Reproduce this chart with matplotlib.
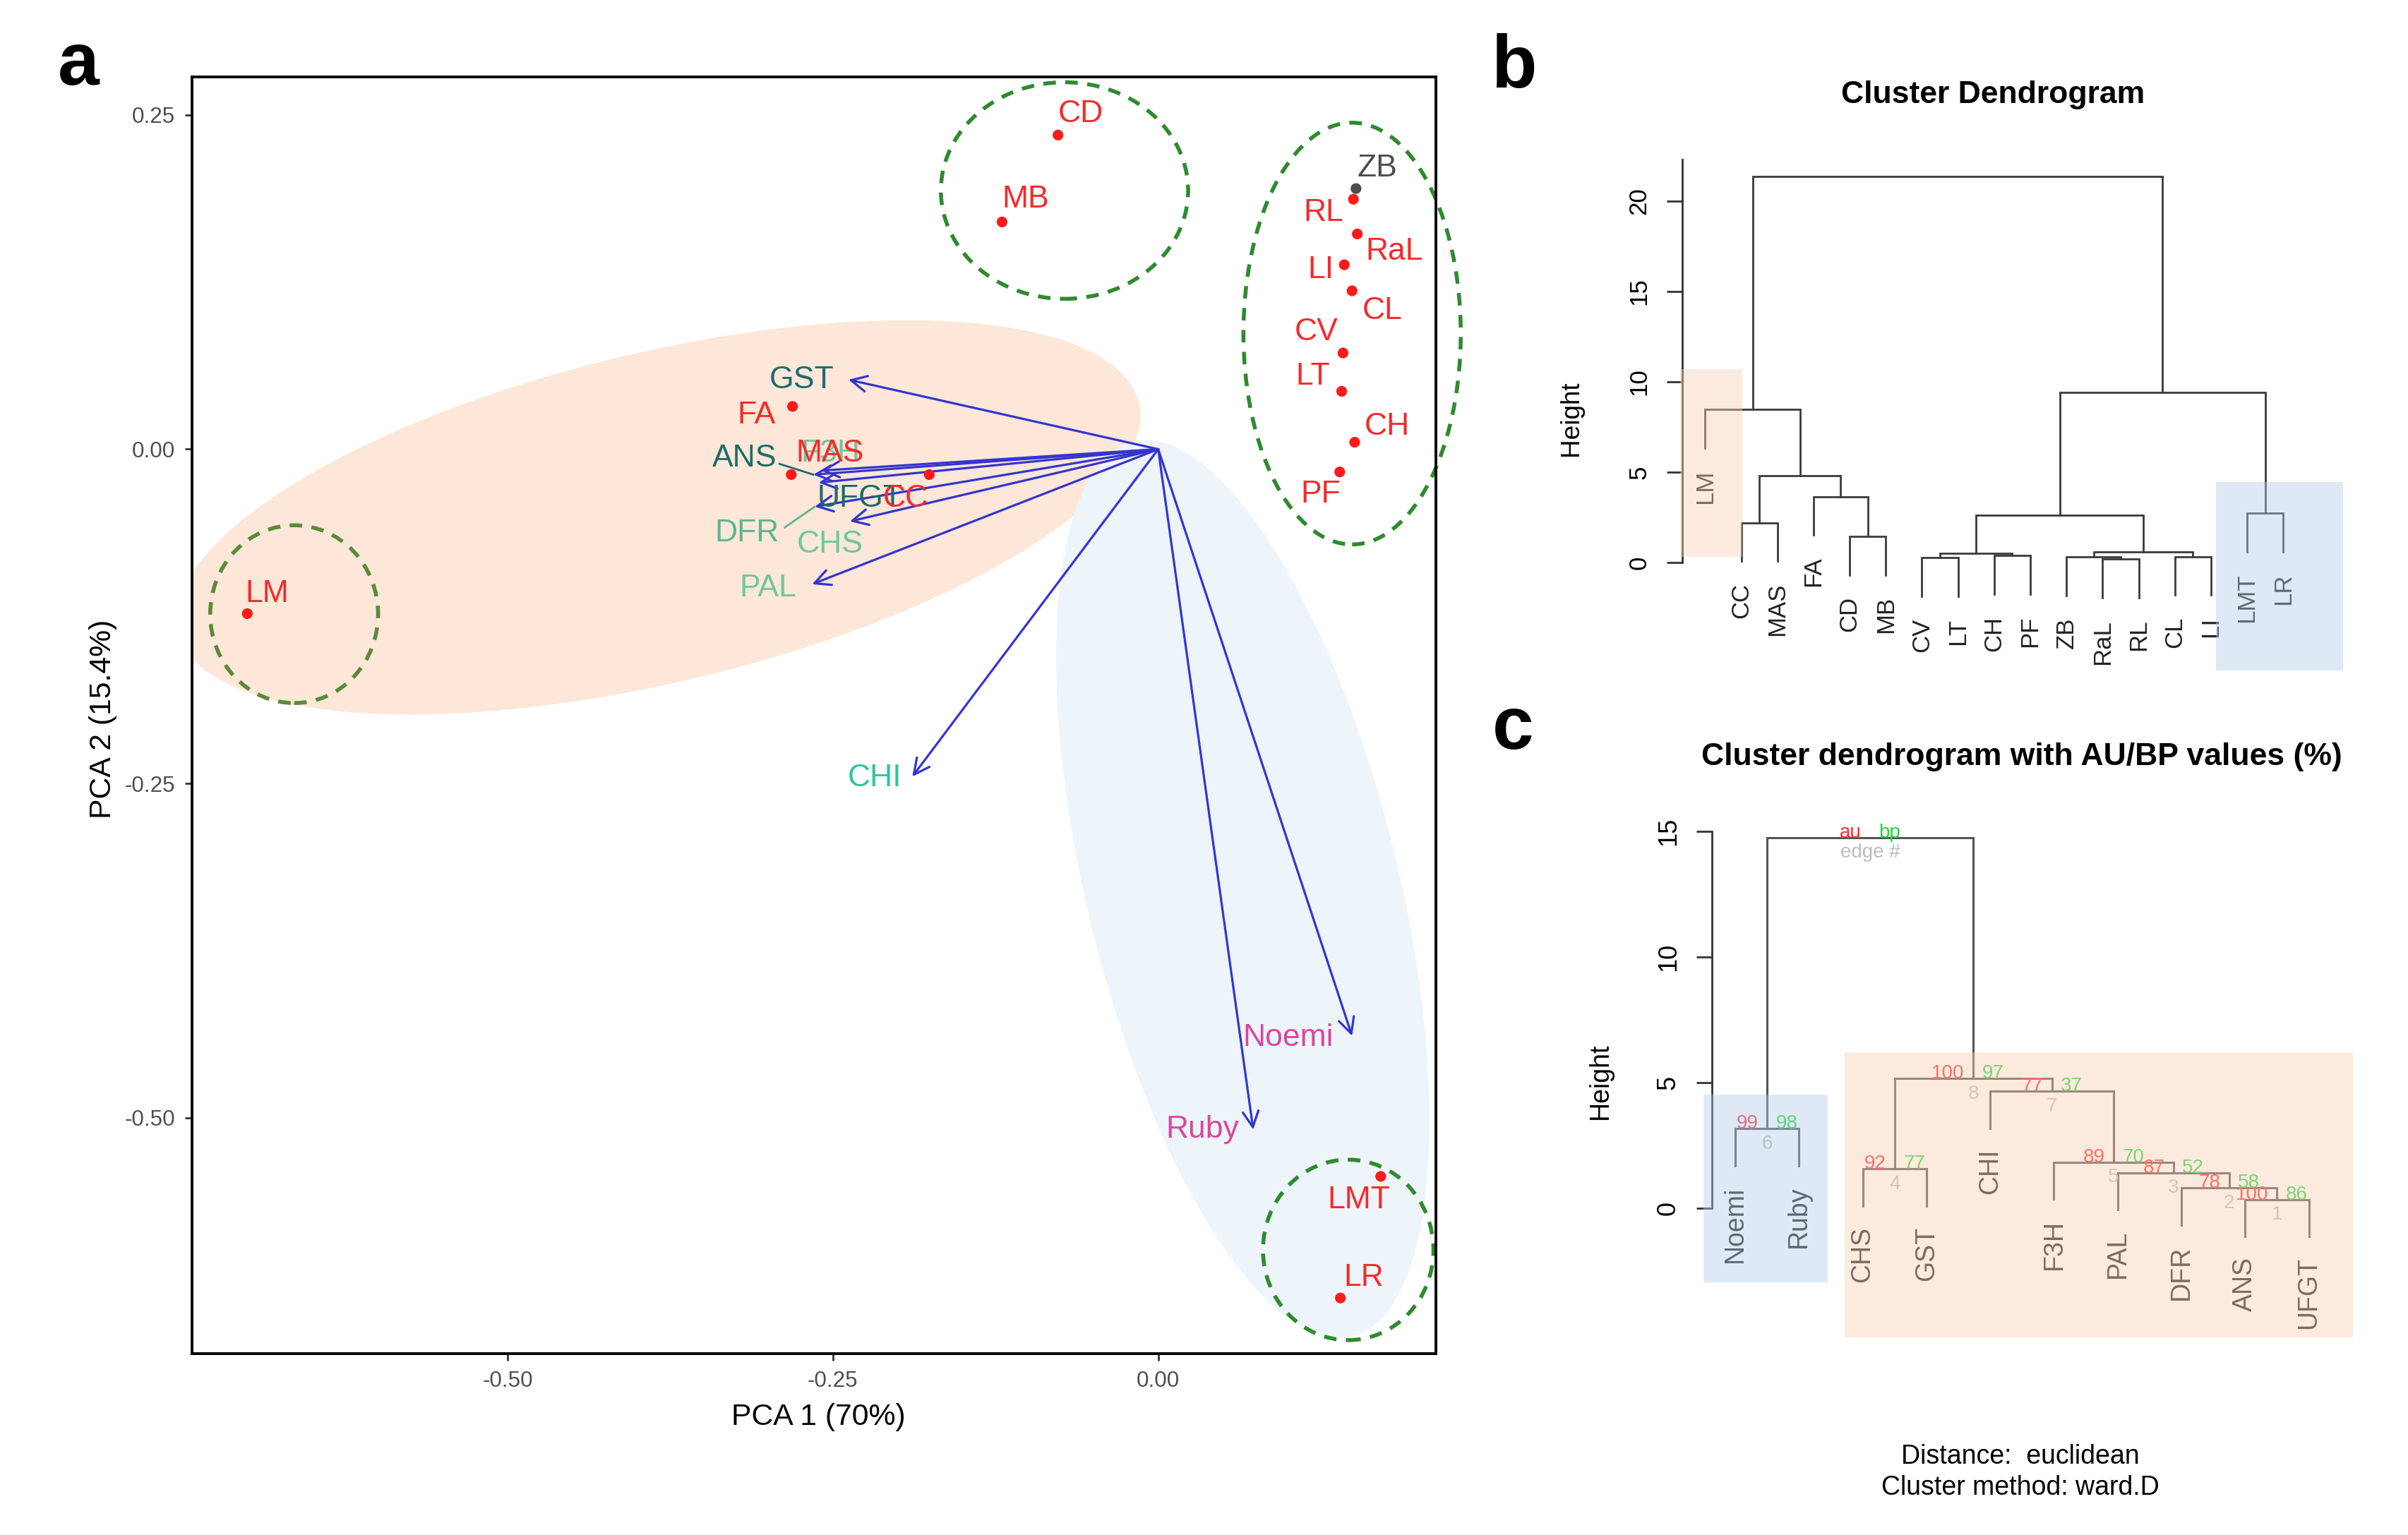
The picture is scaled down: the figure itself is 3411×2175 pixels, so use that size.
import matplotlib
matplotlib.use('Agg')
import matplotlib.pyplot as plt
from matplotlib.patches import Ellipse, Rectangle

plt.rcParams['font.family'] = ['Liberation Sans', 'DejaVu Sans']
plt.rcParams['axes.unicode_minus'] = False

# ---------------------------
# data: PCA biplot (panel a)
# ---------------------------
samples = ['CD', 'MB', 'ZB', 'RL', 'RaL', 'LI', 'CL', 'CV', 'LT', 'CH', 'PF',
           'FA', 'MAS', 'CC', 'LM', 'LMT', 'LR']
pc1 = [-0.077, -0.120, 0.152, 0.150, 0.153, 0.143, 0.149, 0.142, 0.141, 0.151,
       0.1395, -0.281, -0.282, -0.176, -0.700, 0.171, 0.140]
pc2 = [0.235, 0.170, 0.195, 0.187, 0.161, 0.138, 0.1185, 0.072, 0.0433, 0.0052,
       -0.017, 0.032, -0.019, -0.019, -0.123, -0.544, -0.635]

genes = ['GST', 'ANS', 'F3H', 'UFGT', 'DFR', 'CHS', 'PAL', 'CHI', 'Noemi', 'Ruby']
load1 = [-0.238, -0.265, -0.259, -0.261, -0.264, -0.237, -0.266, -0.189, 0.149, 0.073]
load2 = [0.052, -0.019, -0.016, -0.025, -0.043, -0.054, -0.101, -0.245, -0.439, -0.509]

# ---------------------------
# data: dendrogram of samples (panel b)
# leaves are names, ints refer to earlier merges (1-based)
# ---------------------------
b_leaves = ['LM', 'CC', 'MAS', 'FA', 'CD', 'MB', 'CV', 'LT', 'CH', 'PF',
            'ZB', 'RaL', 'RL', 'CL', 'LI', 'LMT', 'LR']
b_merge = [('CV', 'LT'), ('RaL', 'RL'), ('ZB', 2), ('CH', 'PF'), ('CL', 'LI'),
           (1, 4), (3, 5), ('CD', 'MB'), ('CC', 'MAS'), (6, 7), ('LMT', 'LR'),
           ('FA', 8), (9, 12), ('LM', 13), (10, 11), (14, 15)]
b_height = [0.25, 0.17, 0.30, 0.37, 0.32, 0.52, 0.57, 1.44, 2.19, 2.62, 2.71,
            3.64, 4.81, 8.47, 9.41, 21.37]

# ---------------------------
# data: pvclust dendrogram of genes (panel c)
# ---------------------------
c_leaves = ['Noemi', 'Ruby', 'CHS', 'GST', 'CHI', 'F3H', 'PAL', 'DFR', 'ANS', 'UFGT']
c_merge = [('ANS', 'UFGT'), ('DFR', 1), ('PAL', 2), ('CHS', 'GST'), ('F3H', 3),
           ('Noemi', 'Ruby'), ('CHI', 5), (4, 7), (6, 8)]
c_height = [0.34, 0.80, 1.41, 1.56, 1.83, 3.16, 4.65, 5.16, 14.76]
c_au = [100, 78, 87, 92, 89, 99, 77, 100, None]
c_bp = [86, 58, 52, 77, 70, 98, 37, 97, None]

# ---------------------------
# styling / layout
# ---------------------------
RED = '#f52a2a'
GRAY = '#4d4d4d'
ARROW = '#3434cf'
gene_col = {'GST': '#1d6b6d', 'ANS': '#1d6b6d', 'UFGT': '#1d6b6d',
            'F3H': '#6fc69e', 'DFR': '#5ab78f', 'CHS': '#6fc69e', 'PAL': '#6fc69e',
            'CHI': '#2fc2a4', 'Noemi': '#d9479f', 'Ruby': '#d9479f'}

# label offsets (data units) from point / arrow tip
samp_off = {'CD': (0.0174, 0.0157), 'MB': (0.0183, 0.0167), 'ZB': (0.0166, 0.015),
            'RL': (-0.023, -0.0103), 'RaL': (0.0287, -0.0132), 'LI': (-0.018, -0.004),
            'CL': (0.0232, -0.0148), 'CV': (-0.0206, 0.0158), 'LT': (-0.022, 0.0111),
            'CH': (0.0249, 0.0115), 'PF': (-0.0145, -0.0167), 'FA': (-0.0279, -0.0064),
            'MAS': (0.0298, 0.016), 'CC': (-0.018, -0.018), 'LM': (0.0154, 0.0145),
            'LMT': (-0.017, -0.018), 'LR': (0.0177, 0.0153)}
gene_off = {'GST': (-0.036, 0.0), 'ANS': (-0.053, 0.012), 'F3H': (0.007, 0.013),
            'UFGT': (0.032, -0.012), 'DFR': (-0.052, -0.020), 'CHS': (-0.015, -0.0175),
            'PAL': (-0.034, -0.003), 'CHI': (-0.029, -0.001), 'Noemi': (-0.049, -0.0015),
            'Ruby': (-0.039, 0.0)}
# repel segments: start offset from label centre
gene_seg = {'ANS': (0.027, -0.004), 'DFR': (0.029, 0.0045)}

W, H = 3411, 2175
fig = plt.figure(figsize=(W / 200, H / 200), dpi=200)


def fx(px):
    return px / W


def fy(py):
    return 1 - py / H


# ---------------------------
# Panel a
# ---------------------------
ax = fig.add_axes([fx(272), fy(1918), fx(2034) - fx(272), fy(109) - fy(1918)])
ax.set_xlim(-0.7425, 0.2134)
ax.set_ylim(-0.6766, 0.2785)

ax.add_patch(Ellipse((-0.384, -0.051), 0.758, 0.247, angle=13.0,
                     facecolor='#fde7d9', edgecolor='none', zorder=1))
ax.add_patch(Ellipse((0.065, -0.329), 0.69, 0.239, angle=-75.8,
                     facecolor='#edf4fa', edgecolor='none', zorder=1.1))

dash = (0, (3.2, 2.4))
for (cx, cy, w, h, col) in [(-0.072, 0.1935, 0.19, 0.162, '#2e8b2e'),
                            (0.149, 0.0865, 0.167, 0.3155, '#2e8b2e'),
                            (-0.664, -0.1234, 0.129, 0.133, '#5b8a3a'),
                            (0.146, -0.599, 0.131, 0.135, '#2e8b2e')]:
    ax.add_patch(Ellipse((cx, cy), w, h, facecolor='none', edgecolor=col,
                         lw=2.0, linestyle=dash, zorder=2, clip_on=False))

for g, x, y in zip(genes, load1, load2):
    ax.annotate('', xy=(x, y), xytext=(0, 0),
                arrowprops=dict(arrowstyle='->', color=ARROW, lw=1.15,
                                mutation_scale=20, shrinkA=0, shrinkB=0),
                zorder=3)
for g, x, y in zip(genes, load1, load2):
    dx, dy = gene_off[g]
    ax.text(x + dx, y + dy, g, ha='center', va='center', fontsize=16,
            color=gene_col[g], zorder=4)
    if g in gene_seg:
        sx, sy = gene_seg[g]
        ax.plot([x + dx + sx, x], [y + dy + sy, y], color=gene_col[g],
                lw=1.0, zorder=4)

pt_col = [GRAY if s == 'ZB' else '#ff1a1a' for s in samples]
ax.scatter(pc1, pc2, s=30, c=pt_col, zorder=5, linewidths=0)
for s, x, y in zip(samples, pc1, pc2):
    dx, dy = samp_off[s]
    ax.text(x + dx, y + dy, s, ha='center', va='center', fontsize=16,
            color=GRAY if s == 'ZB' else RED, zorder=6)

ax.set_xticks([-0.5, -0.25, 0.0])
ax.set_yticks([0.25, 0.0, -0.25, -0.5])
ax.set_xticklabels(['%.2f' % v for v in [-0.5, -0.25, 0.0]])
ax.set_yticklabels(['%.2f' % v for v in [0.25, 0.0, -0.25, -0.5]])
ax.tick_params(labelsize=11.3, labelcolor=GRAY, length=3.5, width=1.0,
               color='#333333', pad=5)
for sp in ax.spines.values():
    sp.set_linewidth(1.4)
fig.text(fx(1159), fy(2008), 'PCA 1 (70%)', ha='center', va='center', fontsize=15.4)
fig.text(fx(146), fy(1019), 'PCA 2 (15.4%)', ha='center', va='center',
         fontsize=15.4, rotation=90)


# ---------------------------
# dendrogram helper
# ---------------------------
def draw_dendro(ax, leaves, merges, heights, color, lw):
    pos = {name: i + 1 for i, name in enumerate(leaves)}
    hang = 0.1 * max(heights)
    nodes = []
    ends = {}
    for (l, r), h in zip(merges, heights):
        xs, ys = [], []
        for ref in (l, r):
            if isinstance(ref, str):
                x, bottom = pos[ref], h - hang
                ends[ref] = (x, bottom)
            else:
                x, bottom = nodes[ref - 1]
            xs.append(x)
            ys.append(bottom)
        ax.plot([xs[0], xs[0], xs[1], xs[1]], [ys[0], h, h, ys[1]],
                color=color, lw=lw, solid_joinstyle='miter', zorder=2)
        nodes.append(((xs[0] + xs[1]) / 2, h))
    return nodes, ends


def dendro_axes(ax, ticks, top, fs):
    for k in ['top', 'right', 'bottom']:
        ax.spines[k].set_visible(False)
    ax.spines['left'].set_bounds(0, top)
    ax.spines['left'].set_linewidth(1.0)
    ax.spines['left'].set_color('#333333')
    ax.set_xticks([])
    ax.set_yticks(ticks)
    ax.set_yticklabels([str(t) for t in ticks])
    ax.tick_params(axis='y', length=8, width=1.0, color='#333333',
                   labelsize=fs, pad=8)
    for t in ax.get_yticklabels():
        t.set_rotation(90)
        t.set_va('center')
        t.set_ha('right')
    ax.patch.set_alpha(0)


# ---------------------------
# Panel b
# ---------------------------
axb = fig.add_axes([fx(2382.6), fy(869), fx(3267) - fx(2382.6), fy(226) - fy(869)])
axb.set_xlim(0.36, 17.64)
axb.set_ylim(-2.82, 22.3)
nodes_b, ends_b = draw_dendro(axb, b_leaves, b_merge, b_height, '#3a3a3a', 1.0)
for name, (x, y) in ends_b.items():
    axb.annotate(name, (x, y), xytext=(0, -11), textcoords='offset points',
                 rotation=90, ha='center', va='top', fontsize=12.5, color='#222222')
axb.add_patch(Rectangle((0.31, 0.32), 1.72, 10.39, facecolor='#fbcfb5',
                        alpha=0.42, edgecolor='none', zorder=5, clip_on=False))
axb.add_patch(Rectangle((15.13, -5.98), 3.52, 10.44, facecolor='#b3cbe8',
                        alpha=0.42, edgecolor='none', zorder=5, clip_on=False))
dendro_axes(axb, [0, 5, 10, 15, 20], 22.3, 12.5)
fig.text(fx(2225), fy(593), 'Height', ha='center', va='center', rotation=90,
         fontsize=13.3)
fig.text(fx(2823), fy(146), 'Cluster Dendrogram', ha='center', va='baseline',
         fontsize=16, fontweight='bold')

# ---------------------------
# Panel c
# ---------------------------
axc = fig.add_axes([fx(2425.4), fy(1775), fx(3303.1) - fx(2425.4), fy(1164) - fy(1775)])
axc.set_xlim(0.64, 10.36)
axc.set_ylim(-1.78, 15.4)
nodes_c, ends_c = draw_dendro(axc, c_leaves, c_merge, c_height, '#555555', 1.1)
for name, (x, y) in ends_c.items():
    axc.annotate(name, (x, y), xytext=(0, -10.5), textcoords='offset points',
                 rotation=90, ha='center', va='top', fontsize=13.5, color='#222222')
for i, (x, h) in enumerate(nodes_c):
    au = 'au' if c_au[i] is None else str(c_au[i])
    bp = 'bp' if c_bp[i] is None else str(c_bp[i])
    edge = 'edge #' if c_au[i] is None else str(i + 1)
    axc.annotate(au, (x, h), xytext=(-4.5, 0), textcoords='offset points',
                 ha='right', va='baseline', fontsize=10, color='#ff2d2d', zorder=4)
    axc.annotate(bp, (x, h), xytext=(4.5, 0), textcoords='offset points',
                 ha='left', va='baseline', fontsize=10, color='#1fd93d', zorder=4)
    axc.annotate(edge, (x, h), xytext=(0, -3), textcoords='offset points',
                 ha='center', va='top', fontsize=10, color='#bdbdbd', zorder=4)
axc.add_patch(Rectangle((0.5, -2.95), 1.954, 7.48, facecolor='#b3cbe8',
                        alpha=0.42, edgecolor='none', zorder=5, clip_on=False))
axc.add_patch(Rectangle((2.713, -5.16), 7.98, 11.37, facecolor='#fbcfb5',
                        alpha=0.42, edgecolor='none', zorder=5, clip_on=False))
dendro_axes(axc, [0, 5, 10, 15], 15, 13)
fig.text(fx(2267), fy(1532), 'Height', ha='center', va='center', rotation=90,
         fontsize=13.5)
fig.text(fx(2864), fy(1084), 'Cluster dendrogram with AU/BP values (%)',
         ha='center', va='baseline', fontsize=16, fontweight='bold')
fig.text(fx(2862), fy(2064), 'Distance:  euclidean', ha='center', va='center',
         fontsize=13.5)
fig.text(fx(2862), fy(2108), 'Cluster method: ward.D', ha='center', va='center',
         fontsize=13.5)

# panel letters
for letter, px, py in [('a', 111, 120), ('b', 2144, 124), ('c', 2143, 1061)]:
    fig.text(fx(px), fy(py), letter, ha='center', va='baseline', fontsize=38,
             fontweight='bold')

fig.savefig('out.png', dpi=200)
